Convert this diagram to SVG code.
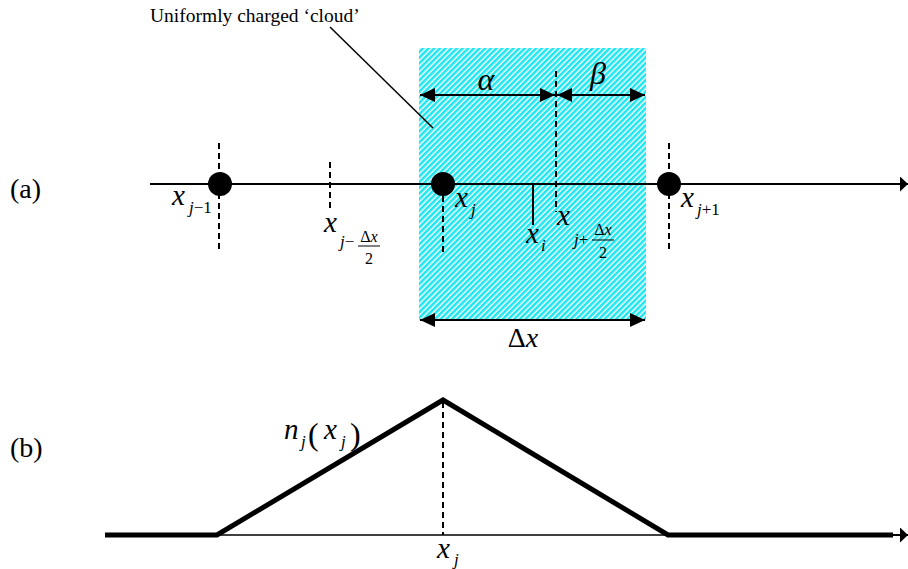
<svg xmlns="http://www.w3.org/2000/svg" width="908" height="569" viewBox="0 0 908 569">
<defs>
<pattern id="hatch" width="4" height="4" patternUnits="userSpaceOnUse" patternTransform="rotate(45)">
<rect width="4" height="4" fill="#ffffff"/>
<rect width="2.6" height="4" fill="#1ee6ef"/>
</pattern>
<marker id="ah" viewBox="0 0 8 15" refX="8" refY="7.5" markerWidth="8" markerHeight="15" markerUnits="userSpaceOnUse" orient="auto">
<path d="M0,0 L8,7.5 L0,15 z" fill="#000"/>
</marker>
<marker id="dim" viewBox="0 0 15 14" refX="15" refY="7" markerWidth="15" markerHeight="14" markerUnits="userSpaceOnUse" orient="auto-start-reverse">
<path d="M0,0 L15,7 L0,14 z" fill="#000"/>
</marker>
</defs>
<style>
text{font-family:"Liberation Serif","Times New Roman",serif;fill:#000}
.i{font-style:italic}
.n{font-style:normal}
.ln{stroke:#000;stroke-width:2;fill:none}
.thin{stroke:#000;stroke-width:1.5;fill:none}
.dash{stroke:#000;stroke-width:2;stroke-dasharray:6,4;fill:none}
.thick{stroke:#000;stroke-width:5;fill:none;stroke-linejoin:miter}
.bar{stroke:#000;stroke-width:1}
</style>

<g id="cloud">
<rect x="419" y="48" width="227" height="273" fill="url(#hatch)"/>
</g>

<g id="connectors">
<line class="ln" x1="150" y1="184" x2="908" y2="184" marker-end="url(#ah)"/>
<line class="dash" x1="219" y1="143" x2="219" y2="253"/>
<line class="dash" x1="330" y1="162" x2="330" y2="209"/>
<line class="dash" x1="443" y1="196" x2="443" y2="253"/>
<line class="dash" x1="556" y1="71" x2="556" y2="212"/>
<line class="dash" x1="669" y1="143" x2="669" y2="253"/>
<line class="ln" x1="533" y1="184" x2="533" y2="225"/>
<line class="ln" x1="420" y1="95" x2="555" y2="95" marker-start="url(#dim)" marker-end="url(#dim)"/>
<line class="ln" x1="557" y1="95" x2="645" y2="95" marker-start="url(#dim)" marker-end="url(#dim)"/>
<line class="ln" x1="420" y1="320" x2="645" y2="320" marker-start="url(#dim)" marker-end="url(#dim)"/>
<line class="thin" x1="330" y1="27" x2="433" y2="128"/>
<line class="thin" x1="217" y1="535" x2="668" y2="535"/>
<line class="dash" x1="443" y1="402" x2="443" y2="535"/>
<polyline class="thick" points="105,535 217,535 443,400 668,535 893,535"/>
<line class="ln" x1="890" y1="535" x2="908" y2="535" marker-end="url(#ah)"/>
</g>

<g id="node-xjm1"><circle cx="220" cy="184" r="12" fill="#000"/></g>
<g id="node-xj"><circle cx="443" cy="184" r="12" fill="#000"/></g>
<g id="node-xjp1"><circle cx="669" cy="184" r="12" fill="#000"/></g>

<g id="labels">
<text x="150" y="22" font-size="19.5">Uniformly charged ‘cloud’</text>
<text x="10" y="198" font-size="28">(a)</text>
<text x="10" y="457" font-size="28">(b)</text>
<text class="i" x="486" y="90" font-size="32" text-anchor="middle">α</text>
<text class="i" x="598" y="84" font-size="32" text-anchor="middle">β</text>
<text class="i" x="523" y="347" font-size="28" text-anchor="middle"><tspan class="n">Δ</tspan>x</text>

<text class="i" x="172" y="205" font-size="29">x</text>
<text class="i" x="189" y="213" font-size="17">j<tspan class="n">−1</tspan></text>

<text class="i" x="324" y="232" font-size="29">x</text>
<text class="i" x="340" y="247" font-size="17">j<tspan class="n">−</tspan></text>
<text class="i" x="369" y="242" font-size="16" text-anchor="middle"><tspan class="n">Δ</tspan>x</text>
<line class="bar" x1="358" y1="246" x2="380" y2="246"/>
<text x="369" y="264" font-size="16" text-anchor="middle">2</text>

<text class="i" x="455" y="207" font-size="29">x</text>
<text class="i" x="471" y="215" font-size="17">j</text>

<text class="i" x="526" y="243" font-size="29">x</text>
<text class="i" x="541" y="251" font-size="17">i</text>

<text class="i" x="557" y="225" font-size="29">x</text>
<text class="i" x="574" y="245" font-size="17">j<tspan class="n">+</tspan></text>
<text class="i" x="603" y="235" font-size="16" text-anchor="middle"><tspan class="n">Δ</tspan>x</text>
<line class="bar" x1="592" y1="240" x2="614" y2="240"/>
<text x="603" y="258" font-size="16" text-anchor="middle">2</text>

<text class="i" x="681" y="207" font-size="29">x</text>
<text class="i" x="697" y="215" font-size="17">j<tspan class="n">+1</tspan></text>

<text class="i" x="284" y="439" font-size="29">n</text>
<text class="i" x="301" y="447" font-size="17">j</text>
<text x="308" y="445" font-size="32">(</text>
<text class="i" x="324" y="439" font-size="29">x</text>
<text class="i" x="341" y="447" font-size="17">j</text>
<text x="350" y="445" font-size="32">)</text>

<text class="i" x="437" y="558" font-size="29">x</text>
<text class="i" x="454" y="565" font-size="17">j</text>
</g>
</svg>
